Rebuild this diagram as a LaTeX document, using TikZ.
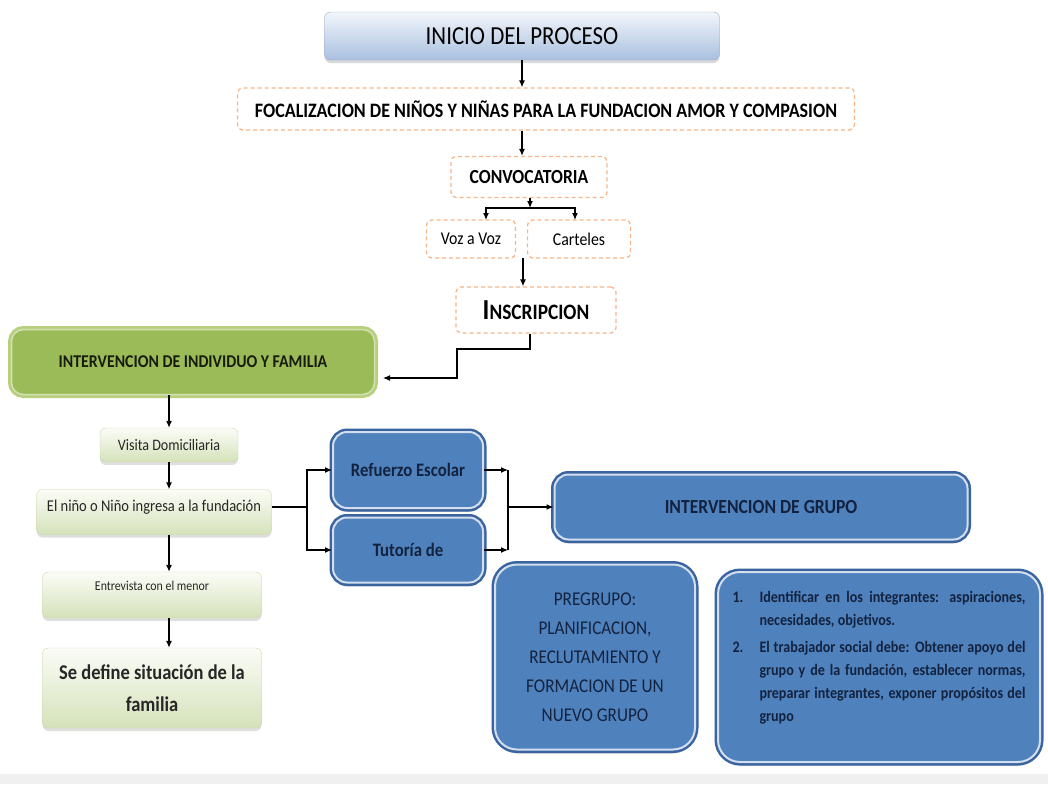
\documentclass[tikz,border=0pt]{standalone}
\usepackage{fontspec}
\setmainfont[FakeStretch=0.88]{Carlito}
\usepackage{tikz}
\usetikzlibrary{arrows.meta,positioning,shadows}
\definecolor{orangeline}{HTML}{F6B68A}
\definecolor{boxblue}{HTML}{4F81BD}
\definecolor{blueedge}{HTML}{3A64A0}
\definecolor{bluetext}{HTML}{13233F}
\definecolor{olivefill}{HTML}{9BBB59}
\definecolor{oliveedge}{HTML}{B8CF7E}
\definecolor{paletop}{HTML}{FBFCF7}
\definecolor{palebot}{HTML}{D5E2BA}
\definecolor{paleedge}{HTML}{C8D6AC}
\definecolor{headtop}{HTML}{F2F6FB}
\definecolor{headbot}{HTML}{A9C0DF}
\definecolor{headedge}{HTML}{98AECB}

\begin{document}
\begin{tikzpicture}[x=1pt,y=-1pt,
    arr/.style={-{Latex[length=7pt,width=6pt]},line width=1.2pt},
    line/.style={line width=1.2pt},
    dashbox/.style={draw=orangeline,dashed,dash pattern=on 4pt off 3pt,line width=1.3pt,
      rounded corners=5pt,fill=white,inner sep=0pt},
    head/.style={draw=headedge,rounded corners=6pt,top color=headtop,bottom color=headbot,
      drop shadow={shadow xshift=0pt,shadow yshift=-3pt,opacity=.3}},
    pale/.style={draw=paleedge,rounded corners=6pt,top color=paletop,bottom color=palebot,
      drop shadow={shadow xshift=0pt,shadow yshift=-3pt,opacity=.25},text=black!85},
    olive/.style={fill=olivefill,draw=white!55!olivefill,line width=1.5pt,rounded corners=12pt,
      preaction={draw=oliveedge,line width=7pt},text=black!85!olivefill},
    bluebox/.style={drop shadow={shadow xshift=0pt,shadow yshift=-4pt,opacity=.35},
      fill=boxblue,draw=white!75!boxblue,line width=2pt,rounded corners=14pt,
      preaction={draw=blueedge,line width=7pt},text=bluetext}]
    \useasboundingbox (0,0) rectangle (1048,784);
    \fill[black!6] (0,774) rectangle (1048,784);

    % entrada
    \node[head,minimum width=395pt,minimum height=48pt,font=\fontsize{26}{30}\selectfont]
      (inicio) at (522,36) {INICIO DEL PROCESO};
    \node[dashbox,minimum width=617pt,minimum height=42pt,font=\bfseries\fontsize{20.5}{24}\selectfont]
      (foco) at (546,109) {FOCALIZACION DE NIÑOS Y NIÑAS PARA LA FUNDACION AMOR Y COMPASION};
    \node[dashbox,minimum width=156pt,minimum height=41pt,font=\bfseries\fontsize{20}{24}\selectfont]
      (convo) at (529,177) {CONVOCATORIA};
    \node[dashbox,minimum width=89pt,minimum height=38pt,font=\fontsize{18}{21}\selectfont]
      (voz) at (471,239) {Voz a Voz};
    \node[dashbox,minimum width=103pt,minimum height=38pt,font=\fontsize{18}{21}\selectfont]
      (cart) at (579,239) {Carteles};
    \node[dashbox,minimum width=160pt,minimum height=46pt,font=\bfseries\fontsize{22}{26}\selectfont]
      (inscr) at (536,310) {{\fontsize{29}{32}\selectfont I}NSCRIPCION};

    \coordinate (split) at (530,208);
    \coordinate (vozin) at (486,220);
    \coordinate (cartin) at (575,220);
    \coordinate (gapin) at (523,258);
    \coordinate (indivin) at (383,378);
    \draw[arr] (inicio.south) -- (inicio.south |- foco.north);
    \draw[arr] (foco.south -| inicio.south) -- (convo.north -| inicio.south);
    \draw[arr] (convo.south -| split) -- (split);
    \draw[arr] (split) -| (vozin);
    \draw[arr] (split) -| (cartin);
    \draw[arr] (gapin) -- (gapin |- inscr.north);
    \draw[arr] (inscr.south -| split) |- (457,349) |- (indivin);

    % individuo y familia
    \node[olive,minimum width=363pt,minimum height=65pt,font=\bfseries\fontsize{18}{21}\selectfont]
      (indiv) at (193,362) {INTERVENCION DE INDIVIDUO Y FAMILIA};
    \node[pale,minimum width=138pt,minimum height=34pt,font=\fontsize{16}{19}\selectfont]
      (visita) at (169,445) {Visita Domiciliaria};
    \node[pale,minimum width=235pt,minimum height=45pt,text depth=13pt,font=\fontsize{16.5}{19}\selectfont]
      (nino) at (154,512) {El niño o Niño ingresa a la fundación};
    \node[pale,minimum width=219pt,minimum height=46pt,text depth=19pt,font=\fontsize{13.5}{16}\selectfont]
      (entre) at (152,595) {Entrevista con el menor};
    \node[pale,minimum width=219pt,minimum height=80pt,align=center,
      font=\bfseries\fontsize{21}{32}\selectfont]
      (define) at (152,688) {Se define situación de la\\familia};

    \draw[arr] (indiv.south -| visita) -- (visita);
    \draw[arr] (visita) -- (visita |- nino.north);
    \draw[arr] (visita |- nino.south) -- (visita |- entre.north);
    \draw[arr] (visita |- entre.south) -- (visita |- define.north);

    % grupo
    \node[bluebox,minimum width=150pt,minimum height=76pt,font=\bfseries\fontsize{19}{22}\selectfont]
      (refuerzo) at (408,470) {Refuerzo Escolar};
    \node[bluebox,minimum width=150pt,minimum height=65pt,font=\bfseries\fontsize{19}{22}\selectfont]
      (tutoria) at (408,550) {Tutoría de};
    \node[bluebox,minimum width=413pt,minimum height=65pt,font=\bfseries\fontsize{20}{24}\selectfont]
      (grupo) at (761,507) {INTERVENCION DE GRUPO};
    \node[bluebox,minimum width=200pt,minimum height=185pt,align=center,
      font=\fontsize{19.5}{29}\selectfont,rounded corners=22pt]
      (pregrupo) at (595,657) {PREGRUPO:\\PLANIFICACION,\\RECLUTAMIENTO Y\\FORMACION DE UN\\NUEVO GRUPO};
    \node[bluebox,minimum width=322pt,minimum height=190pt,text width=293pt,align=justify,
      font=\bfseries\fontsize{16}{23}\selectfont,rounded corners=22pt]
      (lista) at (879,667)
      {\hyphenpenalty=10000\exhyphenpenalty=10000
       \hangindent=27pt\hangafter=1\makebox[27pt][l]{1.}Identificar en los integrantes: aspiraciones, necesidades, objetivos.\par
       \vspace{4pt}
       \hangindent=27pt\hangafter=1\makebox[27pt][l]{2.}El trabajador social debe: Obtener apoyo del grupo y de la fundación, establecer normas, preparar integrantes, exponer propósitos del grupo\par
       \vspace{18pt}};

    \coordinate (fork) at (307,507);
    \coordinate (join) at (508,507);
    \draw[line] (nino.east |- fork) -- (fork);
    \draw[arr] (fork) |- (refuerzo);
    \draw[arr] (fork) |- (tutoria);
    \draw[arr] (refuerzo) -- (refuerzo -| join);
    \draw[arr] (tutoria) -- (tutoria -| join);
    \draw[line] (refuerzo -| join) -- (tutoria -| join);
    \draw[arr] (join) -- (grupo);
\end{tikzpicture}
\end{document}
